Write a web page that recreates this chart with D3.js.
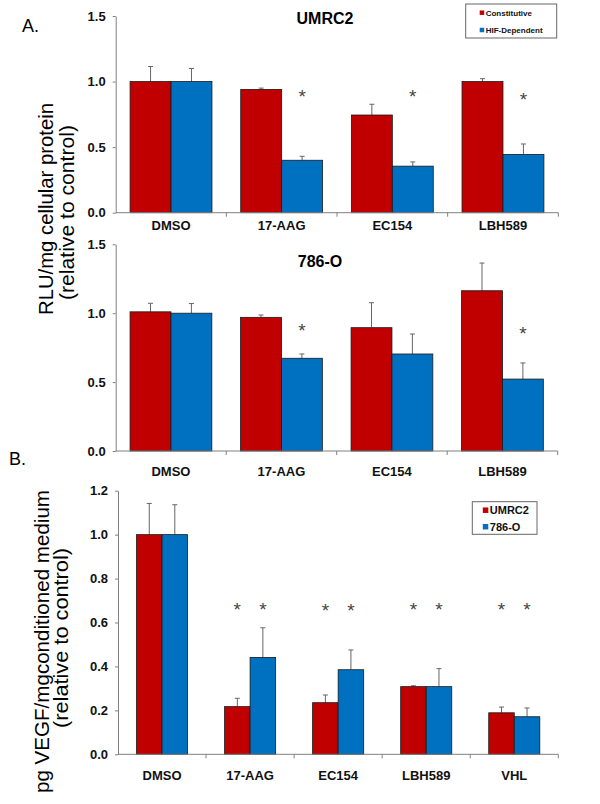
<!DOCTYPE html>
<html>
<head>
<meta charset="utf-8">
<script src="https://cdn.jsdelivr.net/npm/d3@7"></script>
<style>
  html, body { margin: 0; padding: 0; background: #fff; }
  svg { display: block; font-family: "Liberation Sans", Arial, sans-serif; }
</style>
</head>
<body>
<svg id="chart" width="600" height="804"></svg>
<script>
// ---------------- DATA ----------------
const categoriesA = ["DMSO", "17-AAG", "EC154", "LBH589"];
const seriesA = ["Constitutive", "HIF-Dependent"];
const yTicksA = [0, 0.5, 1.0, 1.5];

// Panel A, UMRC2
const umrc2Constitutive    = [1.00, 0.94, 0.745, 1.00];
const umrc2ConstitutiveErr = [0.115, 0.01, 0.082, 0.022];
const umrc2HIF             = [1.00, 0.40, 0.355, 0.444];
const umrc2HIFErr          = [0.10, 0.03, 0.032, 0.08];
const umrc2Stars           = [null, 0.92, 0.92, 0.90];

// Panel A, 786-O
const o786Constitutive    = [1.01, 0.97, 0.895, 1.163];
const o786ConstitutiveErr = [0.062, 0.017, 0.181, 0.201];
const o786HIF             = [1.00, 0.673, 0.704, 0.522];
const o786HIFErr          = [0.07, 0.031, 0.145, 0.117];
const o786Stars           = [null, 0.91, null, 0.885];

// Panel B
const categoriesB = ["DMSO", "17-AAG", "EC154", "LBH589", "VHL"];
const seriesB = ["UMRC2", "786-O"];
const yTicksB = [0, 0.2, 0.4, 0.6, 0.8, 1.0, 1.2];
const vegfUMRC2    = [1.00, 0.217, 0.235, 0.308, 0.189];
const vegfUMRC2Err = [0.142, 0.038, 0.035, 0.004, 0.026];
const vegf786O     = [1.00, 0.441, 0.385, 0.308, 0.171];
const vegf786OErr  = [0.136, 0.135, 0.09, 0.082, 0.04];
const vegfStarsUMRC2 = [null, 0.68, 0.675, 0.68, 0.68];
const vegf786OStars  = [null, 0.68, 0.675, 0.68, 0.68];

// ---------------- STYLE ----------------
const RED = "#C00000", BLUE = "#0070C0";
const AXIS = "#808080", ERR = "#666666";
const svg = d3.select("#chart");

function panel(opts) {
  const g = svg.append("g");
  const x0 = d3.scaleBand().domain(opts.categories).range(opts.xRange).padding(0);
  const bw = x0.bandwidth();
  const x1 = d3.scaleBand().domain([0, 1])
    .range([bw * opts.groupStart, bw * (1 - opts.groupStart)]).padding(0);
  const y = d3.scaleLinear().domain([0, opts.yMax]).range(opts.yRange);

  // y axis
  const yAxis = g.append("g")
    .attr("transform", `translate(${opts.xRange[0]},0)`)
    .call(d3.axisLeft(y).tickValues(opts.yTicks).tickFormat(d3.format(".1f"))
      .tickSize(3).tickPadding(7).tickSizeOuter(0));
  yAxis.select(".domain").attr("stroke", AXIS);
  yAxis.selectAll(".tick line").attr("stroke", AXIS);
  yAxis.selectAll(".tick text").attr("font-size", 13).attr("font-weight", "bold")
    .attr("fill", "#111").attr("font-family", "Liberation Sans, Arial, sans-serif");

  // bars
  const series = opts.series;
  series.forEach((s, si) => {
    const vals = s.values, errs = s.errors;
    opts.categories.forEach((c, i) => {
      const bx = x0(c) + x1(si);
      const w = x1.bandwidth();
      // error bar (upper only)
      const top = y(vals[i] + errs[i]);
      const cx = bx + w / 2;
      g.append("line").attr("x1", cx).attr("x2", cx)
        .attr("y1", y(vals[i])).attr("y2", top)
        .attr("stroke", ERR).attr("stroke-width", 1);
      g.append("line").attr("x1", cx - 2.5).attr("x2", cx + 2.5)
        .attr("y1", top).attr("y2", top)
        .attr("stroke", ERR).attr("stroke-width", 1);
      g.append("rect")
        .attr("x", bx).attr("y", y(vals[i]))
        .attr("width", w).attr("height", y(0) - y(vals[i]))
        .attr("fill", s.color).attr("stroke", "#1a1a1a").attr("stroke-width", 0.8);
      if (s.stars && s.stars[i] != null) {
        g.append("text").attr("x", cx).attr("y", y(s.stars[i]) + 11)
          .attr("text-anchor", "middle").attr("font-size", 19)
          .attr("fill", "#444").text("*");
      }
    });
  });

  // x axis line
  const y0 = y(0);
  g.append("line").attr("x1", opts.xRange[0]).attr("x2", opts.xRange[1])
    .attr("y1", y0).attr("y2", y0).attr("stroke", AXIS).attr("stroke-width", 1);
  const bounds = opts.categories.map(c => x0(c)).concat([opts.xRange[1]]);
  bounds.slice(1).forEach(b => {
    g.append("line").attr("x1", b).attr("x2", b).attr("y1", y0).attr("y2", y0 + 4)
      .attr("stroke", AXIS).attr("stroke-width", 1);
  });
  // x labels
  opts.categories.forEach(c => {
    g.append("text").attr("x", x0(c) + bw / 2).attr("y", y0 + opts.labelOffset)
      .attr("text-anchor", "middle").attr("font-size", 13).attr("font-weight", "bold")
      .attr("fill", "#111").text(c);
  });

  // title
  if (opts.title) {
    g.append("text").attr("x", opts.titleX).attr("y", opts.titleY)
      .attr("text-anchor", "middle").attr("font-size", 16).attr("font-weight", "bold")
      .attr("fill", "#000").text(opts.title);
  }

  // legend
  if (opts.legend) {
    const L = opts.legend;
    g.append("rect").attr("x", L.x).attr("y", L.y).attr("width", L.w).attr("height", L.h)
      .attr("fill", "#fff").attr("stroke", "#666").attr("stroke-width", 1);
    L.items.forEach((it, k) => {
      const cy = L.y + L.firstY + k * L.step;
      g.append("rect").attr("x", L.x + L.sqX).attr("y", cy - L.sq / 2)
        .attr("width", L.sq).attr("height", L.sq).attr("fill", it.color);
      g.append("text").attr("x", L.x + L.sqX + L.sq + 1.5).attr("y", cy + L.fs * 0.36)
        .attr("font-size", L.fs).attr("font-weight", "bold").attr("fill", "#111")
        .text(it.label);
    });
  }
  return g;
}

// Panel A – UMRC2
panel({
  categories: categoriesA, xRange: [115.7, 558.3], yRange: [212.7, 16], yMax: 1.5,
  yTicks: yTicksA, groupStart: 0.13, labelOffset: 17.5,
  title: "UMRC2", titleX: 325, titleY: 23.5,
  series: [
    { values: umrc2Constitutive, errors: umrc2ConstitutiveErr, color: RED },
    { values: umrc2HIF, errors: umrc2HIFErr, color: BLUE, stars: umrc2Stars }
  ],
  legend: { x: 465.7, y: 4, w: 91, h: 34, firstY: 8.7, step: 17.3, sqX: 14, sq: 4.5, fs: 8,
    items: [{ label: seriesA[0], color: RED }, { label: seriesA[1], color: BLUE }] }
});

// Panel A – 786-O
panel({
  categories: categoriesA, xRange: [115.7, 557.7], yRange: [451, 244.3], yMax: 1.5,
  yTicks: yTicksA, groupStart: 0.13, labelOffset: 24.5,
  title: "786-O", titleX: 320, titleY: 267,
  series: [
    { values: o786Constitutive, errors: o786ConstitutiveErr, color: RED },
    { values: o786HIF, errors: o786HIFErr, color: BLUE, stars: o786Stars }
  ]
});

// Panel B
panel({
  categories: categoriesB, xRange: [118, 558.3], yRange: [754.3, 490.7], yMax: 1.2,
  yTicks: yTicksB, groupStart: 0.21, labelOffset: 25.7,
  series: [
    { values: vegfUMRC2, errors: vegfUMRC2Err, color: RED, stars: vegfStarsUMRC2 },
    { values: vegf786O, errors: vegf786OErr, color: BLUE, stars: vegf786OStars }
  ],
  legend: { x: 472.3, y: 501.7, w: 64.7, h: 32.6, firstY: 8.5, step: 16.5, sqX: 10.5, sq: 5.5, fs: 11,
    items: [{ label: seriesB[0], color: RED }, { label: seriesB[1], color: BLUE }] }
});

// panel letters
svg.append("text").attr("x", 22).attr("y", 32).attr("font-size", 18).attr("fill", "#000").text("A.");
svg.append("text").attr("x", 9).attr("y", 465).attr("font-size", 18).attr("fill", "#000").text("B.");

// y axis titles (rotated)
function ylab(text, x, cy, len) {
  svg.append("text")
    .attr("transform", `translate(${x},${cy}) rotate(-90)`)
    .attr("text-anchor", "middle").attr("font-size", 20).attr("fill", "#000")
    .attr("textLength", len).attr("lengthAdjust", "spacingAndGlyphs")
    .text(text);
}
ylab("RLU/mg cellular protein", 53, 209, 212);
ylab("(relative to control)", 74, 212.5, 175);
ylab("pg VEGF/mgconditioned medium", 48.5, 641.5, 303);
ylab("(relative to control)", 68, 638, 180);
</script>
</body>
</html>
